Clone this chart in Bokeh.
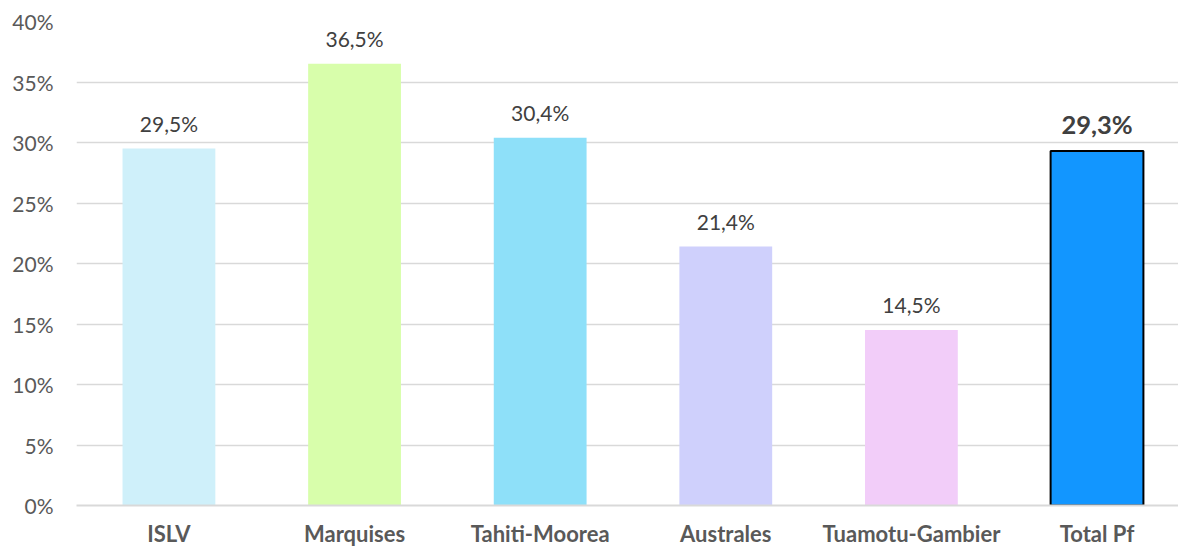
from bokeh.plotting import figure
from bokeh.models import ColumnDataSource, FixedTicker, Range1d, LabelSet
from bokeh.core.properties import value
from bokeh.embed import file_html
from bokeh.resources import INLINE

categories = ["ISLV", "Marquises", "Tahiti-Moorea", "Australes", "Tuamotu-Gambier", "Total Pf"]
values = [29.5, 36.5, 30.4, 21.4, 14.5, 29.3]
colors = ["#CFF0FA", "#D8FEAB", "#8EE0F9", "#CFD0FC", "#F2CDF9", "#1296FF"]
y_ticks = [0, 5, 10, 15, 20, 25, 30, 35, 40]

xs = list(range(len(categories)))
labels = [f"{v:.1f}".replace(".", ",") + "%" for v in values]

src = ColumnDataSource(dict(x=xs[:-1], top=values[:-1], color=colors[:-1], label=labels[:-1]))
src_tot = ColumnDataSource(dict(x=xs[-1:], top=values[-1:], color=colors[-1:], label=labels[-1:]))

p = figure(width=1178, height=549, output_backend="svg", toolbar_location=None,
           x_range=Range1d(-0.498, 5.439), y_range=Range1d(0, 40),
           min_border_left=76, min_border_right=0, min_border_top=21, min_border_bottom=41)
p.outline_line_color = None
p.background_fill_color = "white"

p.vbar(x="x", top="top", width=0.5, fill_color="color", line_color=None, source=src)
p.vbar(x="x", top="top", width=0.5, fill_color="color", line_color="black", line_width=2, source=src_tot)

p.add_layout(LabelSet(x="x", y="top", text="label", source=src, text_align="center",
                      text_baseline="bottom", y_offset=13, text_font=value("Lato"),
                      text_font_size="21px", text_color="#404040"))
p.add_layout(LabelSet(x="x", y="top", text="label", source=src_tot, text_align="center",
                      text_baseline="bottom", y_offset=12, text_font=value("Lato"),
                      text_font_size="25.5px", text_font_style="bold", text_color="#404040"))

p.yaxis.ticker = FixedTicker(ticks=y_ticks)
p.yaxis.major_label_overrides = {t: f"{t}%" for t in y_ticks}
p.yaxis.axis_line_color = None
p.yaxis.major_tick_line_color = None
p.yaxis.minor_tick_line_color = None
p.yaxis.major_tick_out = 0
p.yaxis.major_tick_in = 0
p.yaxis.minor_tick_out = 0
p.yaxis.major_label_standoff = 23
p.yaxis.major_label_text_font = "Lato"
p.yaxis.major_label_text_font_size = "21px"
p.yaxis.major_label_text_color = "#595959"

p.xaxis.ticker = FixedTicker(ticks=xs)
p.xaxis.major_label_overrides = {i: c for i, c in enumerate(categories)}
p.xaxis.axis_line_color = "#D9D9D9"
p.xaxis.axis_line_width = 2
p.xaxis.major_tick_line_color = None
p.xaxis.minor_tick_line_color = None
p.xaxis.major_tick_out = 0
p.xaxis.major_tick_in = 0
p.xaxis.minor_tick_out = 0
p.xaxis.major_label_standoff = 14
p.xaxis.major_label_text_font = "Lato"
p.xaxis.major_label_text_font_size = "22px"
p.xaxis.major_label_text_font_style = "bold"
p.xaxis.major_label_text_color = "#595959"

p.xgrid.grid_line_color = None
p.ygrid.grid_line_color = "#D9D9D9"
p.ygrid.grid_line_width = 1.5
p.ygrid.ticker = FixedTicker(ticks=y_ticks)

open("out.html", "w").write(file_html(p, INLINE))
